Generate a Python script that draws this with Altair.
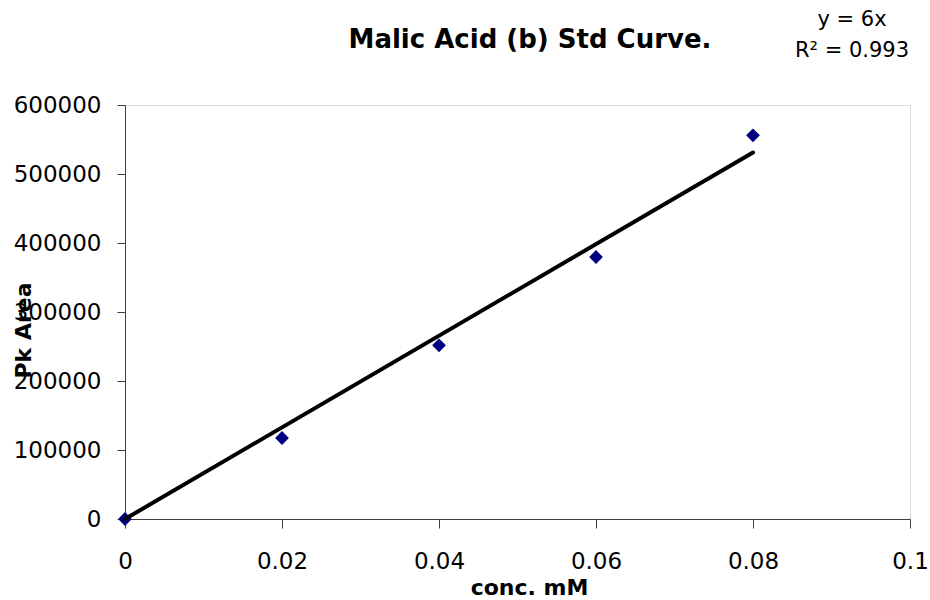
import altair as alt
import numpy as np
import pandas as pd

# ---- data ----
conc = [0.0, 0.02, 0.04, 0.06, 0.08]
pk_area = [0, 117400, 251700, 379700, 556000]
x_ticks = [0, 0.02, 0.04, 0.06, 0.08, 0.1]
y_ticks = [0, 100000, 200000, 300000, 400000, 500000, 600000]
title_text = "Malic Acid (b) Std Curve."
eq_lines = ["y = 6x", "R² = 0.993"]
x_title = "conc. mM"
y_title = "Pk Area"

pts = pd.DataFrame({"conc": conc, "area": pk_area})

# trendline through the origin (least squares), drawn over the data range
xa = np.array(conc)
ya = np.array(pk_area, dtype=float)
slope = float(np.sum(xa * ya) / np.sum(xa * xa))
trend = pd.DataFrame({"conc": [min(conc), max(conc)],
                      "area": [slope * min(conc), slope * max(conc)]})

FONT = "DejaVu Sans"
AX = "#404040"

x_enc = alt.X("conc:Q",
              scale=alt.Scale(domain=[0, 0.1], nice=False, zero=True),
              axis=alt.Axis(values=x_ticks, format="~g", title=x_title, grid=False,
                            domainColor=AX, tickColor=AX, tickSize=9,
                            labelFont=FONT, labelFontSize=23, labelColor="black",
                            labelPadding=22, labelFlush=False, labelOverlap=False,
                            titleFont=FONT, titleFontSize=22, titleFontWeight="bold",
                            titleColor="black", titleX=404, titleY=58,
                            titleBaseline="top", titleAlign="center"))
y_enc = alt.Y("area:Q",
              scale=alt.Scale(domain=[0, 600000], nice=False),
              axis=alt.Axis(values=y_ticks, format="d", title=y_title, grid=False,
                            domainColor=AX, tickColor=AX, tickSize=8,
                            labelFont=FONT, labelFontSize=23, labelColor="black",
                            labelPadding=16, labelFlush=False, labelOverlap=False,
                            titleFont=FONT, titleFontSize=22, titleFontWeight="bold",
                            titleColor="black", titleAngle=-90, titleX=-102, titleY=225,
                            titleAlign="center", titleBaseline="middle"))

points = alt.Chart(pts).mark_point(shape="diamond", filled=True, size=190,
                                   color="#000080", opacity=1).encode(x=x_enc, y=y_enc)
line = alt.Chart(trend).mark_line(color="black", strokeWidth=4,
                                  strokeCap="round").encode(x=x_enc, y=y_enc)
anno = pd.DataFrame({"k": [0]})
eq = alt.Chart(anno).mark_text(
    font=FONT, fontSize=21, color="black", align="center",
    baseline="alphabetic", lineHeight=31).encode(
    x=alt.value(727), y=alt.value(-79), text=alt.value(eq_lines))
title = alt.Chart(anno).mark_text(
    font=FONT, fontSize=26, fontWeight="bold", color="black", align="center",
    baseline="alphabetic").encode(
    x=alt.value(405), y=alt.value(-57), text=alt.value(title_text))

chart = alt.layer(points, line, eq, title).properties(
    width=785, height=414,
    autosize=alt.AutoSizeParams(type="none"),
    padding={"left": 125, "top": 105, "right": 20, "bottom": 81},
).configure_view(stroke=None).configure(background="white")

chart.save("out.html", embed_options={"renderer": "svg", "actions": False})
